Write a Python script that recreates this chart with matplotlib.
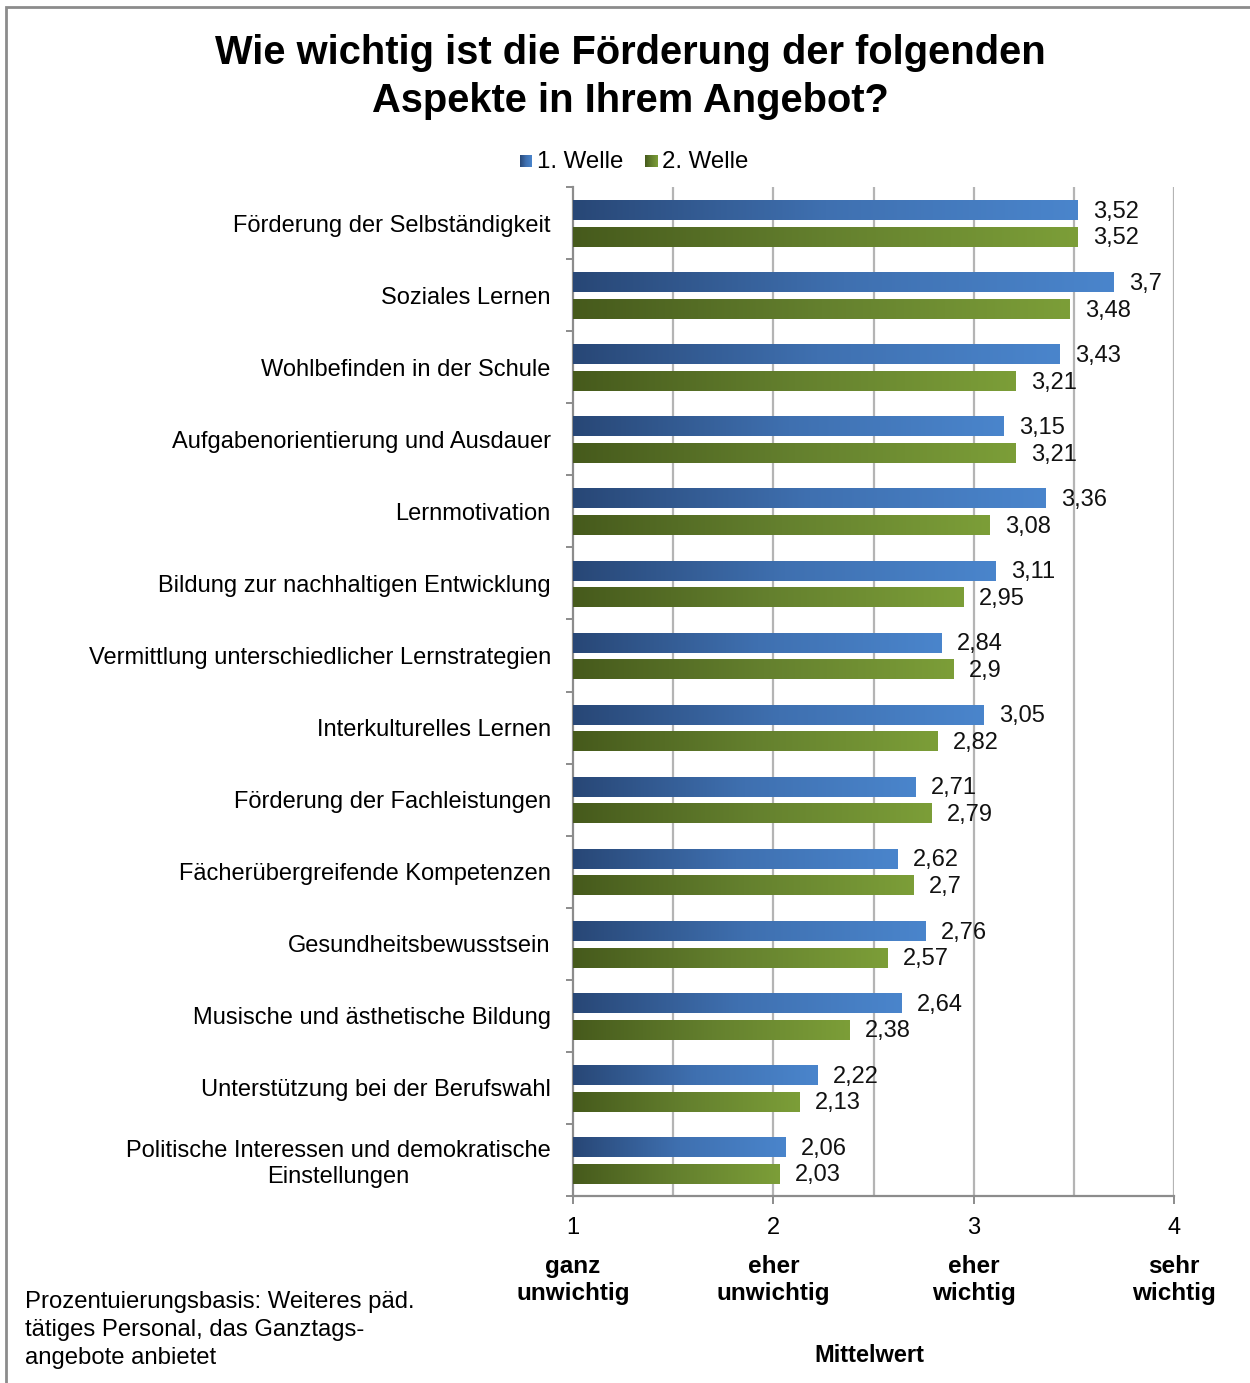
import numpy as np
import matplotlib
matplotlib.use("Agg")
import matplotlib.pyplot as plt
from matplotlib.colors import LinearSegmentedColormap
from matplotlib.patches import Rectangle
import matplotlib.transforms as mtransforms

plt.rcParams['font.family'] = ['Liberation Sans', 'DejaVu Sans']

categories = [
    "Förderung der Selbständigkeit",
    "Soziales Lernen",
    "Wohlbefinden in der Schule",
    "Aufgabenorientierung und Ausdauer",
    "Lernmotivation",
    "Bildung zur nachhaltigen Entwicklung",
    "Vermittlung unterschiedlicher Lernstrategien",
    "Interkulturelles Lernen",
    "Förderung der Fachleistungen",
    "Fächerübergreifende Kompetenzen",
    "Gesundheitsbewusstsein",
    "Musische und ästhetische Bildung",
    "Unterstützung bei der Berufswahl",
    "Politische Interessen und demokratische\nEinstellungen",
]
welle1 = [3.52, 3.7, 3.43, 3.15, 3.36, 3.11, 2.84, 3.05, 2.71, 2.62, 2.76, 2.64, 2.22, 2.06]
welle2 = [3.52, 3.48, 3.21, 3.21, 3.08, 2.95, 2.9, 2.82, 2.79, 2.7, 2.57, 2.38, 2.13, 2.03]
series_names = ["1. Welle", "2. Welle"]
xticks = [1, 2, 3, 4]
xtick_words = ["ganz\nunwichtig", "eher\nunwichtig", "eher\nwichtig", "sehr\nwichtig"]

title = "Wie wichtig ist die Förderung der folgenden\nAspekte in Ihrem Angebot?"
xlabel = "Mittelwert"
footnote_lines = ["Prozentuierungsbasis: Weiteres päd.",
                  "tätiges Personal, das Ganztags-",
                  "angebote anbietet"]

blue_cmap = LinearSegmentedColormap.from_list("b", ["#284776", "#3f70b0", "#4a85cc"])
green_cmap = LinearSegmentedColormap.from_list("g", ["#465a1c", "#64802e", "#7c9e38"])

W, H = 1250, 1383
fig = plt.figure(figsize=(W / 100, H / 100), dpi=100)

def fx(px):
    return px / W

def fy(py):
    return 1 - py / H

# outer frame
fig.patches.append(Rectangle((fx(6), fy(H + 10)), 1.2, fy(7) - fy(H + 10), transform=fig.transFigure,
                             fill=False, edgecolor="#8c8c8c", linewidth=2.0, zorder=0))

ax = fig.add_axes([fx(573), fy(1196), fx(1174) - fx(573), fy(187) - fy(1196)])

n = len(categories)
y = np.arange(n)
off = 0.185
h = 0.27
bars1 = ax.barh(y - off + 0.01, [v - 1 for v in welle1], left=1, height=h, color="none", edgecolor="none")
bars2 = ax.barh(y + off + 0.01, [v - 1 for v in welle2], left=1, height=h, color="none", edgecolor="none")

grad = np.linspace(0, 1, 256).reshape(1, -1)
for bars, cmap in ((bars1, blue_cmap), (bars2, green_cmap)):
    for b in bars:
        x0, y0 = b.get_x(), b.get_y()
        w, hh = b.get_width(), b.get_height()
        ax.imshow(grad, extent=[x0, x0 + w, y0 + hh, y0], cmap=cmap, aspect="auto",
                  interpolation="bilinear", zorder=3)

for vals, bars in ((welle1, bars1), (welle2, bars2)):
    for v, b in zip(vals, bars):
        yc = b.get_y() + b.get_height() / 2
        ax.annotate(f"{v:g}".replace(".", ","), xy=(v, yc), xytext=(11, -1), textcoords="offset points",
                    ha="left", va="center", fontsize=17, color="#111111", zorder=4)

ax.set_xlim(1, 4)
ax.set_ylim(n - 0.5, -0.5)

# grid
for g in [1.5, 2, 2.5, 3, 3.5, 4]:
    ax.axvline(g, color="#b4b4b4", linewidth=1.6, zorder=1)

for s in ["top", "right"]:
    ax.spines[s].set_visible(False)
for s in ["left", "bottom"]:
    ax.spines[s].set_color("#8c8c8c")
    ax.spines[s].set_linewidth(1.6)

ax.set_yticks(y)
ax.set_yticklabels(categories, fontsize=17, multialignment="center")
ax.tick_params(axis="y", length=0, pad=16)
ax.set_yticks(np.arange(n + 1) - 0.5, minor=True)
ax.tick_params(axis="y", which="minor", length=5, width=1.4, color="#8c8c8c")

ax.set_xticks(xticks)
ax.set_xticklabels([str(t) for t in xticks], fontsize=17)
ax.tick_params(axis="x", length=6, width=1.4, color="#8c8c8c", pad=9)

trans = mtransforms.blended_transform_factory(ax.transData, fig.transFigure)
for t, word in zip(xticks, xtick_words):
    ax.text(t, fy(1280), word, transform=trans, ha="center", va="center", fontsize=17.5,
            fontweight="bold", linespacing=1.2)

fig.text(fx(869), fy(1356), xlabel, ha="center", va="center", fontsize=17, fontweight="bold")

fig.text(fx(630), fy(77), title, ha="center", va="center", fontsize=28.7, fontweight="bold",
         linespacing=1.33)

for i, line in enumerate(footnote_lines):
    fig.text(fx(25), fy(1302 + 28 * i), line, ha="left", va="center", fontsize=17.2)

# legend
leg_items = [(520, series_names[0], blue_cmap), (645, series_names[1], green_cmap)]
for xpx, name, cmap in leg_items:
    lax = fig.add_axes([fx(xpx), fy(167), fx(12), fy(155) - fy(167)])
    lax.imshow(grad, cmap=cmap, aspect="auto", extent=[0, 1, 0, 1])
    lax.set_axis_off()
    fig.text(fx(xpx + 17), fy(162), name, ha="left", va="center", fontsize=17.3)

fig.savefig("out.png", dpi=100)
